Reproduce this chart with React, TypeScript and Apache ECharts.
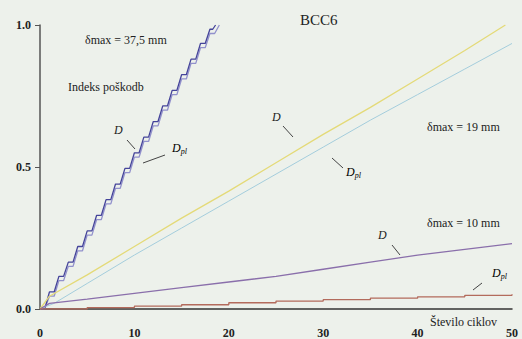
import React, { useEffect, useRef } from "react";
import * as echarts from "echarts";

// δmax = 37,5 mm, damage index at each cycle (staircase)
const cycles375 = [0, 1, 2, 3, 4, 5, 6, 7, 8, 9, 10, 11, 12, 13, 14, 15, 16, 17, 18, 18.6];
const d375 = [0, 0.06, 0.115, 0.165, 0.22, 0.275, 0.33, 0.385, 0.44, 0.495, 0.55, 0.605, 0.66, 0.715, 0.77, 0.825, 0.88, 0.935, 0.985, 1.0];
const cycles375pl = [0, 1, 2, 3, 4, 5, 6, 7, 8, 9, 10, 11, 12, 13, 14, 15, 16, 17, 18, 19];
const dpl375 = [0, 0.045, 0.1, 0.15, 0.205, 0.26, 0.315, 0.37, 0.425, 0.48, 0.535, 0.59, 0.645, 0.7, 0.755, 0.81, 0.865, 0.92, 0.97, 1.0];

// δmax = 19 mm
const cycles19 = [0, 1, 5, 10, 15, 20, 25, 30, 35, 40, 45, 49.3];
const d19 = [0, 0.045, 0.12, 0.22, 0.32, 0.415, 0.515, 0.615, 0.71, 0.81, 0.91, 1.0];
const cycles19pl = [0, 1.5, 5, 10, 15, 20, 25, 30, 35, 40, 45, 50];
const dpl19 = [0, 0.02, 0.09, 0.19, 0.285, 0.38, 0.475, 0.57, 0.665, 0.755, 0.845, 0.935];

// δmax = 10 mm
const cycles10 = [0, 1, 5, 10, 15, 20, 25, 30, 35, 40, 45, 50];
const d10 = [0, 0.02, 0.035, 0.055, 0.075, 0.095, 0.115, 0.14, 0.165, 0.19, 0.21, 0.23];
const cycles10pl = [0, 5, 10, 15, 20, 25, 30, 35, 40, 45, 50];
const dpl10 = [0, 0.005, 0.01, 0.015, 0.022, 0.028, 0.033, 0.038, 0.043, 0.048, 0.052];

const xTicks = [0, 10, 20, 30, 40, 50];
const yTicks = [0, 0.5, 1.0];

const pairs = (xs: number[], ys: number[]) => xs.map((x, i) => [x, ys[i]]);
// staircase with slanted risers: hold each cycle's value for half a cycle, then rise
const stairs = (xs: number[], ys: number[]) => {
  const out: number[][] = [];
  xs.forEach((x, i) => {
    out.push([x, ys[i]]);
    if (i < xs.length - 1) out.push([x + (xs[i + 1] - x) * 0.5, ys[i]]);
  });
  return out;
};

const FONT = "'Liberation Serif', 'Times New Roman', serif";

export default function App() {
  const ref = useRef<HTMLDivElement>(null);
  useEffect(() => {
    if (!ref.current) return;
    const chart = echarts.init(ref.current, undefined, { renderer: "svg" });
    const lineSeries = (data: number[][], color: string, width: number, step?: any) => ({
      type: "line",
      data,
      showSymbol: false,
      symbol: "none",
      step,
      lineStyle: { color, width },
      z: 3,
    });
    const txt = (x: number, y: number, text: string, size = 12, extra: any = {}) => ({
      type: "text",
      x,
      y,
      style: { text, font: `${size}px ${FONT}`, fill: "#222", textVerticalAlign: "middle", ...extra },
      z: 10,
    });
    const dpl = (x: number, y: number) => ({
      type: "text",
      x,
      y,
      style: {
        text: "{a|D}{b|pl}",
        textVerticalAlign: "middle",
        rich: {
          a: { fontFamily: "Liberation Serif", fontSize: 12, fontStyle: "italic", color: "#222" },
          b: { fontFamily: "Liberation Serif", fontSize: 8, fontStyle: "italic", color: "#222", padding: [6, 0, 0, 0] },
        },
      },
      z: 10,
    });
    const leader = (x1: number, y1: number, x2: number, y2: number) => ({
      type: "line",
      shape: { x1, y1, x2, y2 },
      style: { stroke: "#444", lineWidth: 1 },
      z: 10,
    });
    chart.setOption({
      animation: false,
      backgroundColor: "#edf1eb",
      grid: { left: 40, right: 10, top: 25, bottom: 28 },
      xAxis: {
        type: "value",
        min: 0,
        max: 50,
        interval: 10,
        axisLine: { lineStyle: { color: "#333", width: 1.5 } },
        axisTick: { show: false },
        splitLine: { show: false },
        axisLabel: {
          margin: 18,
          color: "#222",
          fontFamily: "Liberation Serif",
          fontSize: 12,
          fontWeight: "bold",
          customValues: xTicks,
        },
      },
      yAxis: {
        type: "value",
        min: 0,
        max: 1,
        interval: 0.5,
        axisLine: { show: true, lineStyle: { color: "#555", width: 1.5 } },
        axisTick: { show: true, length: 5, lineStyle: { color: "#555" } },
        splitLine: { show: false },
        axisLabel: {
          margin: 9,
          color: "#222",
          fontFamily: "Liberation Serif",
          fontSize: 12,
          fontWeight: "bold",
          formatter: (v: number) => (yTicks.includes(v) ? v.toFixed(1) : ""),
        },
      },
      series: [
        lineSeries(stairs(cycles375pl, dpl375), "#9291cc", 1.3),
        lineSeries(stairs(cycles375, d375), "#45449a", 1.3),
        lineSeries(pairs(cycles19pl, dpl19), "#a4cddc", 1),
        lineSeries(pairs(cycles19, d19), "#e4da78", 1.3),
        lineSeries(pairs(cycles10, d10), "#8a6fab", 1.3),
        lineSeries(pairs(cycles10pl, dpl10), "#b36b5c", 1.3, "end"),
      ],
      graphic: [
        txt(300, 20, "BCC6", 15),
        txt(85, 40, "δmax = 37,5 mm", 12),
        txt(68, 87, "Indeks poškodb", 12),
        txt(114, 130, "D", 12, { font: `italic 12px ${FONT}` }),
        leader(127, 140, 135, 149),
        dpl(172, 148),
        leader(143, 163, 165, 155),
        txt(272, 117, "D", 12, { font: `italic 12px ${FONT}` }),
        leader(283, 126, 293, 137),
        dpl(346, 172),
        leader(332, 158, 343, 168),
        txt(427, 127, "δmax = 19 mm", 12),
        txt(427, 223, "δmax = 10 mm", 12),
        txt(378, 235, "D", 12, { font: `italic 12px ${FONT}` }),
        leader(392, 245, 400, 255),
        dpl(492, 273),
        leader(473, 290, 482, 283),
        txt(430, 322, "Število ciklov", 12),
      ],
    });
    return () => chart.dispose();
  }, []);
  return <div ref={ref} style={{ width: 522, height: 339, position: "absolute", left: 0, top: 0 }} />;
}
